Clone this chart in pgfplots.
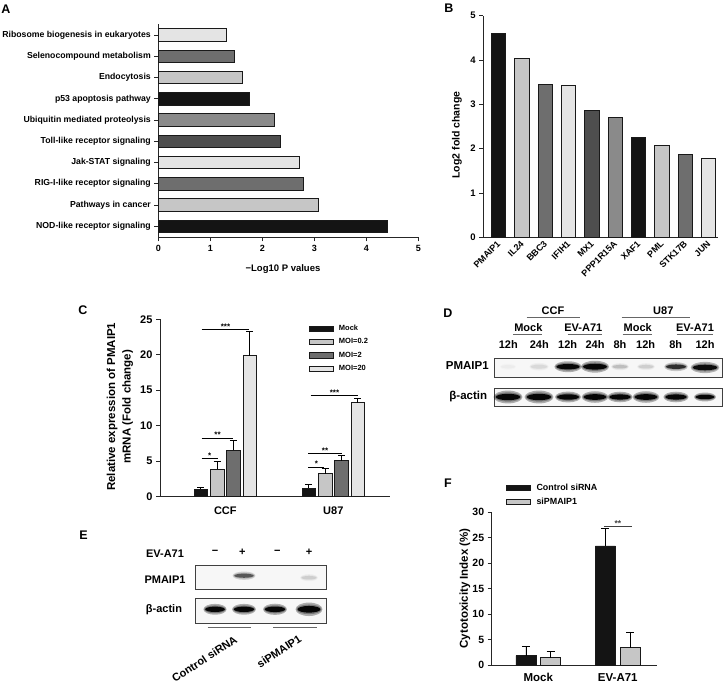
\documentclass[border=0pt]{standalone}
\usepackage{fontspec}
\setmainfont{Liberation Sans}
\usepackage{pgfplots}
\pgfplotsset{compat=1.18}
\definecolor{g1}{HTML}{141414}
\definecolor{g2}{HTML}{C6C6C6}
\definecolor{g3}{HTML}{6E6E6E}
\definecolor{g4}{HTML}{E4E4E4}
\definecolor{g5}{HTML}{4E4E4E}
\definecolor{g6}{HTML}{8A8A8A}
\newcommand\fs[1]{\fontsize{#1}{#1}\selectfont\bfseries}
\pgfplotsset{
  base/.style={scale only axis, anchor=south west, clip=false,
    /pgf/number format/assume math mode=true,
    axis line style={line width=0.8pt, black!85},
    tick style={line width=0.8pt, black!85},
    tick align=outside, major tick length=4pt,
    axis x line*=bottom, axis y line*=left},
  blot/.style={scale only axis, anchor=south west, axis lines=box, ticks=none,
    axis line style={line width=0.9pt, black!75},
    axis background/.style={fill=black!3}},
  vbar/.style={ybar, bar shift=0pt, draw=black!90, line width=0.7pt},
  lbar/.style={ybar, bar shift=0pt, draw=black!90, line width=0.7pt,
    legend image code/.code={\draw[##1,/tikz/.cd] (0pt,-2.6pt) rectangle (24pt,2.6pt);}},
}
% horizontal bar: colour, position, value
\newcommand\hb[3]{\addplot[xbar, bar shift=0pt, bar width=12.5pt, fill=#1, draw=black!90, line width=0.7pt] coordinates {(#3,#2)};}
% vertical bar: colour, position, value
\newcommand\vb[3]{\addplot[vbar, bar width=14.5pt, fill=#1] coordinates {(#2,#3)};}
% blot band: x, y, size, xscale, halo opacity, core opacity
\newcommand\band[6]{%
  \addplot[only marks, forget plot, mark=*, mark size=#3pt, mark options={xscale=#4, yscale=1.6, line width=0pt, draw opacity=0, fill=black, fill opacity=#5}] coordinates {(#1,#2)};
  \addplot[only marks, forget plot, mark=*, mark size=#3pt, mark options={xscale=#4*0.93, yscale=1.15, line width=0pt, draw opacity=0, fill=black, fill opacity=#5}] coordinates {(#1,#2)};
  \addplot[only marks, forget plot, mark=*, mark size=#3pt, mark options={xscale=#4*0.85, yscale=0.8, line width=0pt, draw opacity=0, fill=black, fill opacity=#6}] coordinates {(#1,#2)};}
\begin{document}
\begin{tikzpicture}
\useasboundingbox (0pt,0pt) rectangle (727pt,-684pt);
% panel letters
\node[font=\fs{12.5}] at (6pt,-9pt) {A};
\node[font=\fs{12.5}] at (449pt,-8pt) {B};
\node[font=\fs{12.5}] at (83pt,-310pt) {C};
\node[font=\fs{12.5}] at (448pt,-313pt) {D};
\node[font=\fs{12.5}] at (83.5pt,-535pt) {E};
\node[font=\fs{12.5}] at (448pt,-483pt) {F};

% ---------------- Panel A ----------------
\begin{axis}[base, at={(158.3pt,-237.3pt)}, width=260pt, height=213.3pt,
  xmin=0, xmax=5, ymin=-0.52, ymax=9.52,
  xtick={0,...,5}, ytick={0,...,9},
  yticklabels={NOD-like receptor signaling, Pathways in cancer, RIG-I-like receptor signaling, Jak-STAT signaling, Toll-like receptor signaling, Ubiquitin mediated proteolysis, p53 apoptosis pathway, Endocytosis, Selenocompound metabolism, Ribosome biogenesis in eukaryotes},
  yticklabel style={font=\fs{8.7}}, xticklabel style={font=\fs{9}}]
\hb{g1}{0}{4.40}
\hb{g2}{1}{3.08}
\hb{g3}{2}{2.78}
\hb{g4}{3}{2.71}
\hb{g5}{4}{2.34}
\hb{g6}{5}{2.23}
\hb{g1}{6}{1.76}
\hb{g2}{7}{1.62}
\hb{g3}{8}{1.46}
\hb{g4}{9}{1.31}
\end{axis}
\node[font=\fs{9.5}] at (283pt,-269pt) {−Log10 P values};

% ---------------- Panel B ----------------
\begin{axis}[base, at={(483.3pt,-237.3pt)}, width=234.7pt, height=221.6pt,
  xmin=-0.65, xmax=9.41, ymin=0, ymax=5,
  xtick={0,...,9}, xticklabels={PMAIP1,IL24,BBC3,IFIH1,MX1,PPP1R15A,XAF1,PML,STK17B,JUN},
  x tick style={draw=none}, ytick={0,...,5},
  xticklabel style={font=\fs{9}, rotate=45, anchor=east, xshift=3pt, yshift=-1pt},
  yticklabel style={font=\fs{9.5}}]
\vb{g1}{0}{4.60}
\vb{g2}{1}{4.04}
\vb{g3}{2}{3.45}
\vb{g4}{3}{3.42}
\vb{g5}{4}{2.87}
\vb{g6}{5}{2.70}
\vb{g1}{6}{2.25}
\vb{g2}{7}{2.07}
\vb{g3}{8}{1.88}
\vb{g4}{9}{1.78}
\end{axis}
\node[font=\fs{10.5}, rotate=90] at (457pt,-135pt) {Log2 fold change};

% ---------------- Panel C ----------------
\begin{axis}[base, at={(160pt,-496.7pt)}, width=230pt, height=177.4pt,
  xmin=-0.605, xmax=1.525, ymin=0, ymax=25,
  xtick={0,1}, xticklabels={CCF,U87}, x tick style={draw=none},
  ytick={0,5,...,25},
  xticklabel style={font=\fs{11}, yshift=-3pt}, yticklabel style={font=\fs{11}},
  error bars/y dir=plus, error bars/y explicit,
  error bars/error bar style={line width=0.8pt, black},
  error bars/error mark options={rotate=90, mark size=3.5pt, line width=0.8pt, black},
  legend cell align=left,
  legend style={at={(rel axis cs:0.635,0.985)}, anchor=north west, draw=none, fill=none,
    font=\fs{7.5}, row sep=4.6pt, nodes={inner sep=1pt},
    /tikz/every odd column/.append style={column sep=4pt}}]
\addplot[lbar, bar width=13.5pt, fill=g1] coordinates {(-0.227,1.08) +- (0,0.19) (0.773,1.18) +- (0,0.57)};
\addlegendentry{Mock}
\addplot[lbar, bar width=13.5pt, fill=g2] coordinates {(-0.0755,3.86) +- (0,1.07) (0.9245,3.24) +- (0,0.70)};
\addlegendentry{MOI=0.2}
\addplot[lbar, bar width=13.5pt, fill=g3] coordinates {(0.0755,6.58) +- (0,1.36) (1.0755,5.07) +- (0,0.70)};
\addlegendentry{MOI=2}
\addplot[lbar, bar width=13.5pt, fill=g4] coordinates {(0.227,19.86) +- (0,3.38) (1.227,13.24) +- (0,0.62)};
\addlegendentry{MOI=20}
\draw[line width=0.8pt] (axis cs:-0.219,5.34) -- (axis cs:-0.070,5.34) node[midway, anchor=base, font=\fs{8}, inner sep=0.5pt] {*};
\draw[line width=0.8pt] (axis cs:-0.219,8.28) -- (axis cs:0.074,8.28) node[midway, anchor=base, font=\fs{8}, inner sep=0.5pt] {**};
\draw[line width=0.8pt] (axis cs:-0.219,23.6) -- (axis cs:0.222,23.6) node[midway, anchor=base, font=\fs{8}, inner sep=0.5pt] {***};
\draw[line width=0.8pt] (axis cs:0.769,4.2) -- (axis cs:0.917,4.2) node[midway, anchor=base, font=\fs{8}, inner sep=0.5pt] {*};
\draw[line width=0.8pt] (axis cs:0.769,6.1) -- (axis cs:1.078,6.1) node[midway, anchor=base, font=\fs{8}, inner sep=0.5pt] {**};
\draw[line width=0.8pt] (axis cs:0.791,14.3) -- (axis cs:1.231,14.3) node[midway, anchor=base, font=\fs{8}, inner sep=0.5pt] {***};
\end{axis}
\node[font=\fontsize{11.5}{15.5}\selectfont\bfseries, rotate=90, align=center] at (120pt,-406.7pt) {Relative expression of PMAIP1\\mRNA (Fold change)};

% ---------------- Panel D ----------------
\begin{scope}[font=\fs{11}]
\node at (553pt,-310.7pt) {CCF};
\node at (663.3pt,-310.7pt) {U87};
\draw[black!60, line width=0.8pt] (526.7pt,-317.3pt) -- (580pt,-317.3pt);
\draw[black!60, line width=0.8pt] (621.7pt,-317.3pt) -- (690pt,-317.3pt);
\node at (528.3pt,-327.7pt) {Mock};
\node at (583.3pt,-327.7pt) {EV-A71};
\node at (637.7pt,-327.7pt) {Mock};
\node at (695pt,-327.7pt) {EV-A71};
\draw[black!60, line width=0.8pt] (513pt,-334.3pt) -- (541.7pt,-334.3pt);
\draw[black!60, line width=0.8pt] (567.7pt,-334.3pt) -- (601.7pt,-334.3pt);
\draw[black!60, line width=0.8pt] (622.7pt,-334.3pt) -- (651.7pt,-334.3pt);
\draw[black!60, line width=0.8pt] (676.7pt,-334.3pt) -- (713.3pt,-334.3pt);
\node at (508.3pt,-344.3pt) {12h};
\node at (539.3pt,-344.3pt) {24h};
\node at (567.7pt,-344.3pt) {12h};
\node at (595pt,-344.3pt) {24h};
\node at (620pt,-344.3pt) {8h};
\node at (645.7pt,-344.3pt) {12h};
\node at (675.7pt,-344.3pt) {8h};
\node at (705pt,-344.3pt) {12h};
\node[font=\fs{11.5}] at (467.3pt,-366pt) {PMAIP1};
\node[font=\fs{11.5}] at (468.3pt,-396.7pt) {β-actin};
\end{scope}
\begin{axis}[blot, at={(494pt,-377.3pt)}, width=228.7pt, height=19pt,
  xmin=494, xmax=722.7, ymin=-377.3, ymax=-358.3]
\band{508}{-366.7}{2}{4}{0.01}{0.02}
\band{539}{-366.7}{2.4}{4}{0.03}{0.06}
\band{568}{-366.7}{3.4}{4.0}{0.30}{0.95}
\band{595}{-366.7}{3.7}{3.8}{0.30}{0.95}
\band{620}{-366.7}{2.2}{4}{0.05}{0.14}
\band{646}{-366.7}{2.2}{4}{0.04}{0.09}
\band{676}{-366.7}{2.8}{4.2}{0.20}{0.70}
\band{705}{-367.5}{3.5}{4.1}{0.28}{0.90}
\end{axis}
\begin{axis}[blot, at={(494pt,-406pt)}, width=228.7pt, height=17.3pt,
  xmin=494, xmax=722.7, ymin=-406, ymax=-388.7]
\band{508}{-397}{4}{3.6}{0.30}{0.95}
\band{539}{-397}{4}{3.6}{0.30}{0.95}
\band{568}{-397}{3.4}{3.8}{0.30}{0.95}
\band{595}{-397}{3.6}{3.7}{0.30}{0.95}
\band{620}{-397}{3.3}{3.8}{0.30}{0.95}
\band{646}{-397}{3.6}{3.7}{0.30}{0.95}
\band{676}{-397}{3.3}{3.8}{0.30}{0.95}
\band{705}{-397}{2.8}{3.9}{0.30}{0.95}
\end{axis}

% ---------------- Panel E ----------------
\begin{scope}[font=\fs{11}]
\node at (165pt,-553.3pt) {EV-A71};
\node at (165pt,-579.3pt) {PMAIP1};
\node at (164pt,-610pt) {β-actin};
\node at (215pt,-552.7pt) {−};
\node at (242.3pt,-552.7pt) {+};
\node at (277.3pt,-552.7pt) {−};
\node at (309pt,-552.7pt) {+};
\draw[black!60, line width=0.8pt] (207.7pt,-627.3pt) -- (250.7pt,-627.3pt);
\draw[black!60, line width=0.8pt] (273.3pt,-627.3pt) -- (316.7pt,-627.3pt);
\node[rotate=33, anchor=east, inner sep=1pt] at (237pt,-638pt) {Control siRNA};
\node[rotate=33, anchor=east, inner sep=1pt] at (301pt,-637pt) {siPMAIP1};
\end{scope}
\begin{axis}[blot, at={(195pt,-589pt)}, width=131.7pt, height=23.3pt,
  xmin=195, xmax=326.7, ymin=-589, ymax=-565.7]
\band{244}{-575.7}{2.6}{4.4}{0.15}{0.50}
\band{309}{-577.7}{2.2}{4}{0.04}{0.09}
\end{axis}
\begin{axis}[blot, at={(195pt,-623.3pt)}, width=131.7pt, height=25pt,
  xmin=195, xmax=326.7, ymin=-623.3, ymax=-598.3]
\band{215}{-609.3}{3.4}{3.4}{0.30}{0.95}
\band{244}{-609.3}{3.4}{3.5}{0.30}{0.95}
\band{275}{-609.3}{3.5}{3.4}{0.30}{0.95}
\band{309}{-609.3}{4.2}{3.2}{0.30}{0.95}
\end{axis}

% ---------------- Panel F ----------------
\begin{axis}[base, at={(491.7pt,-665pt)}, width=165.6pt, height=152.7pt,
  xmin=-0.586, xmax=1.497, ymin=0, ymax=30,
  xtick={0,1}, xticklabels={Mock,EV-A71}, x tick style={draw=none},
  ytick={0,5,...,30},
  xticklabel style={font=\fs{11.5}, yshift=-1pt}, yticklabel style={font=\fs{10.5}},
  error bars/y dir=plus, error bars/y explicit,
  error bars/error bar style={line width=0.8pt, black},
  error bars/error mark options={rotate=90, mark size=4pt, line width=0.8pt, black},
  legend cell align=left,
  legend style={at={(rel axis cs:0.066,1.205)}, anchor=north west, draw=none, fill=none,
    font=\fs{8.9}, row sep=3.5pt, nodes={inner sep=1pt},
    /tikz/every odd column/.append style={column sep=5pt}}]
\addplot[lbar, bar width=20pt, fill=g1] coordinates {(-0.155,1.83) +- (0,1.77) (0.845,23.4) +- (0,3.5)};
\addlegendentry{Control siRNA}
\addplot[lbar, bar width=20pt, fill=g2] coordinates {(0.155,1.44) +- (0,1.16) (1.155,3.4) +- (0,3.1)};
\addlegendentry{siPMAIP1}
\draw[line width=0.8pt, black!75] (axis cs:0.830,27.3) -- (axis cs:1.175,27.3) node[midway, anchor=base, font=\fs{8.5}, inner sep=0.5pt] {**};
\end{axis}
\node[font=\fs{11.5}, rotate=90] at (465pt,-588.3pt) {Cytotoxicity Index (\%)};
\end{tikzpicture}
\end{document}
